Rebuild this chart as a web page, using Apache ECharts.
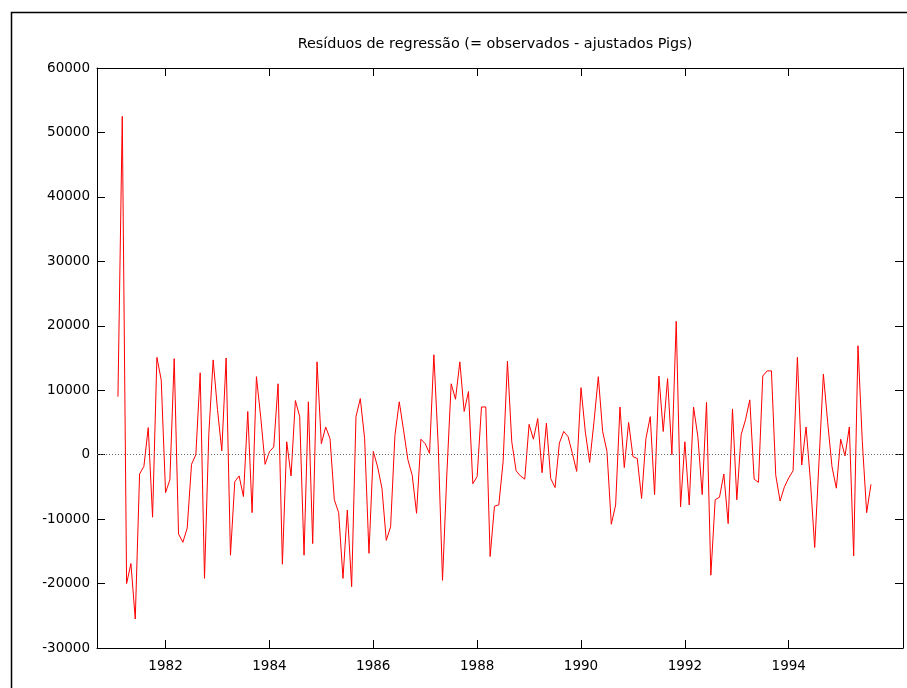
<!DOCTYPE html>
<html>
<head>
<meta charset="utf-8">
<title>Resíduos de regressão</title>
<script src="https://cdn.jsdelivr.net/npm/echarts@6/dist/echarts.min.js"></script>
<style>
  html, body { margin: 0; padding: 0; background: #ffffff; }
  #chart { width: 907px; height: 688px; }
</style>
</head>
<body>
<div id="chart"></div>
<script>
// Monthly regression residuals, 1981:02 - 1995:08
const startYear = 1981;
const startMonth = 2;
const residuals = [
  9000, 52500, -20000, -16900, -25500, -3000, -1800, 4200, -9700, 15100,
  11600, -5900, -3900, 14900, -12300, -13600, -11400, -1500, 0, 12700,
  -19200, 3300, 14700, 7000, 600, 15000, -15600, -4200, -3300, -6500,
  6700, -9000, 12100, 5800, -1500, 450, 1200, 11000, -17000, 2000,
  -3300, 8400, 5900, -15600, 8200, -13800, 14400, 1700, 4300, 2500,
  -7000, -9000, -19200, -8600, -20500, 5900, 8700, 2500, -15300, 500,
  -1900, -5200, -13300, -11200, 3000, 8200, 3800, -800, -3200, -9100,
  2400, 1700, 200, 15500, 1500, -19500, -3000, 11000, 8600, 14400,
  6700, 9800, -4500, -3400, 7400, 7400, -15800, -8000, -7800, -1100,
  14500, 2000, -2500, -3300, -3800, 4700, 2400, 5600, -2800, 4900,
  -3700, -5100, 1800, 3600, 2800, 200, -2600, 10400, 3500, -1200,
  5100, 12100, 3600, 500, -10800, -7800, 7400, -2000, 5000, -300,
  -600, -6800, 2500, 5900, -6200, 12200, 3600, 11800, 0, 20700,
  -8100, 2000, -7800, 7400, 2800, -6200, 8100, -18700, -7000, -6600,
  -3000, -10700, 7100, -7000, 3100, 5400, 8500, -3800, -4300, 12200,
  13000, 13000, -3200, -7200, -5000, -3600, -2500, 15100, -1600, 4300,
  -4000, -14400, -1000, 12500, 5000, -1900, -5200, 2400, -200, 4300,
  -15700, 16900, 2000, -9000, -4600
];

// Axis ticks
const yearTicks = [1982, 1984, 1986, 1988, 1990, 1992, 1994];
const valueTicks = [-30000, -20000, -10000, 0, 10000, 20000, 30000, 40000, 50000, 60000];
const xRange = [1980.68, 1996.2];

const titleText = 'Resíduos de regressão (= observados - ajustados Pigs)';

const points = residuals.map((v, i) => [startYear + (startMonth - 1 + i) / 12, v]);

const font = 'DejaVu Sans, Verdana, sans-serif';
const frame = { show: true, onZero: false, lineStyle: { color: '#000000', width: 1 } };
const xTick = { show: true, inside: true, length: 8, customValues: yearTicks, lineStyle: { color: '#000000', width: 1 } };
const yTick = { show: true, inside: true, length: 8, lineStyle: { color: '#000000', width: 1 } };

const chart = echarts.init(document.getElementById('chart'), null, { renderer: 'canvas' });
chart.setOption({
  animation: false,
  backgroundColor: '#ffffff',
  title: {
    text: titleText,
    left: 490,
    textAlign: 'center',
    top: 32,
    textStyle: { fontFamily: font, fontSize: 14.4, fontWeight: 'normal', color: '#000000' }
  },
  graphic: [{
    type: 'rect',
    left: 9, top: 10,
    shape: { width: 1000, height: 1000 },
    style: { fill: 'none', stroke: '#000000', lineWidth: 1.5 },
    silent: true
  }],
  grid: { left: 97, right: 4, top: 68, bottom: 40, containLabel: false },
  xAxis: [{
    type: 'value', position: 'bottom',
    min: xRange[0], max: xRange[1],
    axisLine: frame,
    axisTick: xTick,
    axisLabel: { customValues: yearTicks, margin: 11, fontFamily: font, fontSize: 13.5, color: '#000000', formatter: (v) => String(Math.round(v)) },
    splitLine: { show: false }
  }, {
    type: 'value', position: 'top',
    min: xRange[0], max: xRange[1],
    axisLine: frame,
    axisTick: xTick,
    axisLabel: { show: false },
    splitLine: { show: false }
  }],
  yAxis: [{
    type: 'value', position: 'left',
    min: valueTicks[0], max: valueTicks[valueTicks.length - 1], interval: 10000,
    axisLine: frame,
    axisTick: yTick,
    axisLabel: { margin: 7, fontFamily: font, fontSize: 13.5, color: '#000000', formatter: (v) => String(v) },
    splitLine: { show: false }
  }, {
    type: 'value', position: 'right',
    min: valueTicks[0], max: valueTicks[valueTicks.length - 1], interval: 10000,
    axisLine: frame,
    axisTick: yTick,
    axisLabel: { show: false },
    splitLine: { show: false }
  }],
  series: [{
    type: 'line',
    data: points,
    showSymbol: false,
    lineStyle: { color: '#ff0000', width: 1 },
    itemStyle: { color: '#ff0000' },
    markLine: {
      silent: true,
      symbol: 'none',
      label: { show: false },
      lineStyle: { color: '#666666', width: 1, type: [1, 2] },
      data: [{ yAxis: 0 }]
    }
  }]
});
</script>
</body>
</html>
